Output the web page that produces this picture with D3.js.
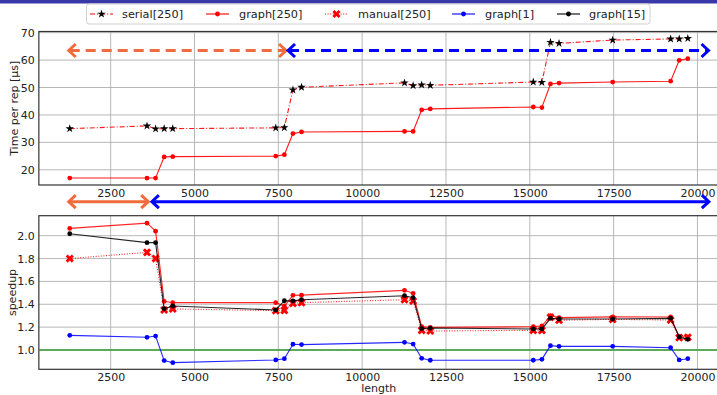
<!DOCTYPE html>
<html lang="en">
<head>
<meta charset="utf-8">
<title>Time per rep and speedup vs length</title>
<script src="https://d3js.org/d3.v7.min.js"></script>
<style>
  body { margin: 0; background: #fff; }
  svg { display: block; font-family: "DejaVu Sans", sans-serif; }
</style>
</head>
<body>
<svg width="717" height="395"></svg>
<script>
// ---- data ----
var lengths = [1280, 3584, 3840, 4096, 4352, 7424, 7680, 7936, 8192, 11264, 11520,
               11776, 12032, 15104, 15360, 15616, 15872, 17472, 19200, 19456, 19712];

// time per rep [µs]
var serial250 = [35.0, 36.0, 34.9, 35.0, 35.0, 35.3, 35.4, 49.1, 50.1, 51.7, 50.7,
                 50.95, 50.8, 52.0, 51.9, 66.5, 66.1, 67.3, 67.7, 67.7, 67.9];
var graph250  = [17.0, 17.0, 17.0, 24.7, 24.8, 25.0, 25.5, 33.2, 33.8, 34.0, 34.0,
                 41.85, 42.2, 42.9, 42.7, 51.3, 51.6, 52.0, 52.3, 59.9, 60.5];

// speedup
var speedGraph250  = [2.064, 2.11, 2.04, 1.426, 1.414, 1.414, 1.385, 1.478, 1.48, 1.522, 1.496,
                      1.204, 1.198, 1.204, 1.21, 1.30, 1.283, 1.29, 1.289, 1.117, 1.115];
var speedManual250 = [1.80, 1.854, 1.80, 1.35, 1.359, 1.344, 1.347, 1.408, 1.414, 1.44, 1.428,
                      1.172, 1.166, 1.172, 1.172, 1.286, 1.26, 1.268, 1.262, 1.108, 1.111];
var speedGraph1    = [1.128, 1.111, 1.122, 0.907, 0.889, 0.913, 0.924, 1.05, 1.047, 1.067, 1.052,
                      0.927, 0.91, 0.91, 0.918, 1.038, 1.032, 1.032, 1.02, 0.913, 0.924];
var speedGraph15   = [2.017, 1.939, 1.939, 1.361, 1.385, 1.35, 1.431, 1.43, 1.44, 1.475, 1.458,
                      1.187, 1.192, 1.184, 1.184, 1.277, 1.271, 1.271, 1.277, 1.114, 1.093];

// range annotations (length units)
var topRanges    = [[1220, 7760], [7760, 20360]];
var bottomRanges = [[1220, 3650], [3700, 20370]];
var topArrowLevel = 63.5;

var xTicks = [2500, 5000, 7500, 10000, 12500, 15000, 17500, 20000];
var topYTicks = [20, 30, 40, 50, 60, 70];
var botYTicks = [1.0, 1.2, 1.4, 1.6, 1.8, 2.0];

var orange = "#f26b3d";
var svg = d3.select("svg");

// thin band at the very top
svg.append("rect").attr("x", 0).attr("y", 0).attr("width", 717).attr("height", 3.5)
   .attr("fill", "#3838a8");

// scales
var x = d3.scaleLinear().domain([358.4, 20633.6]).range([38.85, 718.7]);
var yTop = d3.scaleLinear().domain([14.46, 70.42]).range([185, 31.5]);
var yBot = d3.scaleLinear().domain([0.831, 2.175]).range([369.3, 215.7]);

function panel(y, yTicks, fmt) {
    var g = svg.append("g");
    var y0 = y.range()[0], y1 = y.range()[1];
    var x0 = x.range()[0], x1 = x.range()[1];
    // grid
    g.selectAll(".gx").data(xTicks).enter().append("line")
        .attr("x1", function(d){ return x(d); }).attr("x2", function(d){ return x(d); })
        .attr("y1", y0).attr("y2", y1)
        .attr("stroke", "#b0b0b0").attr("stroke-width", 0.9);
    g.selectAll(".gy").data(yTicks).enter().append("line")
        .attr("x1", x0).attr("x2", x1)
        .attr("y1", function(d){ return y(d); }).attr("y2", function(d){ return y(d); })
        .attr("stroke", "#b0b0b0").attr("stroke-width", 0.9);
    // axes
    var ax = g.append("g").attr("transform", "translate(0," + y0 + ")")
        .call(d3.axisBottom(x).tickValues(xTicks).tickSize(0).tickPadding(4).tickFormat(d3.format("d")));
    var ay = g.append("g").attr("transform", "translate(" + x0 + ",0)")
        .call(d3.axisLeft(y).tickValues(yTicks).tickSize(0).tickPadding(4).tickFormat(fmt));
    [ax, ay].forEach(function(a){
        a.select(".domain").remove();
        a.selectAll("text").attr("font-size", 11).attr("fill", "#222")
            .attr("font-family", "DejaVu Sans, sans-serif");
    });
    // frame
    g.append("rect").attr("x", x0).attr("y", y1).attr("width", x1 - x0).attr("height", y0 - y1)
        .attr("fill", "none").attr("stroke", "#333").attr("stroke-width", 1.2);
    return g;
}

var gTop = panel(yTop, topYTicks, d3.format("d"));
var gBot = panel(yBot, botYTicks, d3.format(".1f"));

// axis labels
svg.append("text").attr("transform", "translate(14," + ((31.5 + 185) / 2) + ") rotate(-90)")
   .attr("text-anchor", "middle").attr("dominant-baseline", "central")
   .attr("font-size", 11).attr("fill", "#222").text("Time per rep [µs]");
svg.append("text").attr("transform", "translate(12," + ((215.7 + 369.3) / 2) + ") rotate(-90)")
   .attr("text-anchor", "middle").attr("dominant-baseline", "central")
   .attr("font-size", 11).attr("fill", "#222").text("speedup");
svg.append("text").attr("x", (38.85 + 718.7) / 2).attr("y", 392)
   .attr("text-anchor", "middle").attr("font-size", 11).attr("fill", "#222").text("length");

// marker helpers
var starPath = d3.symbol().type(d3.symbolStar).size(22)();
var xPath = d3.symbol().type(d3.symbolCross).size(42)();

function series(g, y, vals, opt) {
    var pts = lengths.map(function(l, i){ return [x(l), y(vals[i])]; });
    g.append("path").attr("d", d3.line()(pts))
        .attr("fill", "none").attr("stroke", opt.color).attr("stroke-width", 1.1)
        .attr("stroke-opacity", opt.opacity || 1)
        .attr("stroke-dasharray", opt.dash || null);
    var m = g.selectAll(null).data(pts).enter();
    if (opt.marker === "dot") {
        m.append("circle").attr("cx", function(d){ return d[0]; }).attr("cy", function(d){ return d[1]; })
            .attr("r", 2.4).attr("fill", opt.color);
    } else if (opt.marker === "star") {
        m.append("path").attr("d", starPath).attr("fill", "black")
            .attr("transform", function(d){ return "translate(" + d[0] + "," + d[1] + ")"; });
    } else if (opt.marker === "x") {
        m.append("path").attr("d", xPath).attr("fill", opt.color)
            .attr("transform", function(d){ return "translate(" + d[0] + "," + d[1] + ") rotate(45)"; });
    }
}

// top panel
series(gTop, yTop, serial250, {color: "red", dash: "5,2,1,2", marker: "star", opacity: 0.9});
series(gTop, yTop, graph250, {color: "red", marker: "dot", opacity: 0.9});

// bottom panel
gBot.append("line").attr("x1", x.range()[0]).attr("x2", x.range()[1])
    .attr("y1", yBot(1)).attr("y2", yBot(1))
    .attr("stroke", "#2f9a2f").attr("stroke-width", 1.4);
series(gBot, yBot, speedGraph250, {color: "red", marker: "dot", opacity: 0.85});
series(gBot, yBot, speedManual250, {color: "red", marker: "x", dash: "1,1.6", opacity: 0.85});
series(gBot, yBot, speedGraph1, {color: "blue", marker: "dot", opacity: 0.85});
series(gBot, yBot, speedGraph15, {color: "black", marker: "dot", opacity: 0.85});

// double-headed arrows
function arrow(x1, x2, y, color, dashed) {
    var g = svg.append("g").attr("stroke", color).attr("stroke-width", 3).attr("fill", "none");
    g.append("line").attr("x1", x1 + 2).attr("x2", x2 - 2).attr("y1", y).attr("y2", y)
        .attr("stroke-dasharray", dashed ? "10,6" : null);
    g.append("polyline").attr("points", [[x1 + 8, y - 6.5], [x1 + 1, y], [x1 + 8, y + 6.5]].join(" "));
    g.append("polyline").attr("points", [[x2 - 8, y - 6.5], [x2 - 1, y], [x2 - 8, y + 6.5]].join(" "));
}
var topColors = [orange, "blue"];
topRanges.forEach(function(r, i){ arrow(x(r[0]), x(r[1]), yTop(topArrowLevel), topColors[i], true); });
bottomRanges.forEach(function(r, i){ arrow(x(r[0]), x(r[1]), 201.7, topColors[i], false); });

// legend
var legendItems = [
    {label: "serial[250]", color: "red", dash: "5,2,1,2", marker: "star", x: 90, tx: 122},
    {label: "graph[250]", color: "red", marker: "dot", x: 206, tx: 239},
    {label: "manual[250]", color: "red", dash: "1,1.6", marker: "x", x: 325, tx: 358},
    {label: "graph[1]", color: "blue", marker: "dot", x: 452, tx: 485},
    {label: "graph[15]", color: "black", marker: "dot", x: 557, tx: 589}
];
var lg = svg.append("g");
lg.append("rect").attr("x", 86.5).attr("y", 4).attr("width", 563.5).attr("height", 20).attr("rx", 2.5)
  .attr("fill", "white").attr("fill-opacity", 0.9).attr("stroke", "#d0d0d0").attr("stroke-width", 1);
legendItems.forEach(function(it){
    var cy = 14, cx = it.x + 11.5;
    lg.append("line").attr("x1", it.x).attr("x2", it.x + 23).attr("y1", cy).attr("y2", cy)
      .attr("stroke", it.color).attr("stroke-width", 1.1).attr("stroke-dasharray", it.dash || null);
    if (it.marker === "dot") {
        lg.append("circle").attr("cx", cx).attr("cy", cy).attr("r", 2.4).attr("fill", it.color);
    } else if (it.marker === "star") {
        lg.append("path").attr("d", starPath).attr("fill", "black")
          .attr("transform", "translate(" + cx + "," + cy + ")");
    } else {
        lg.append("path").attr("d", xPath).attr("fill", it.color)
          .attr("transform", "translate(" + cx + "," + cy + ") rotate(45)");
    }
    lg.append("text").attr("x", it.tx).attr("y", cy).attr("dominant-baseline", "central")
      .attr("font-size", 11.3).attr("fill", "#222").text(it.label);
});
</script>
</body>
</html>
